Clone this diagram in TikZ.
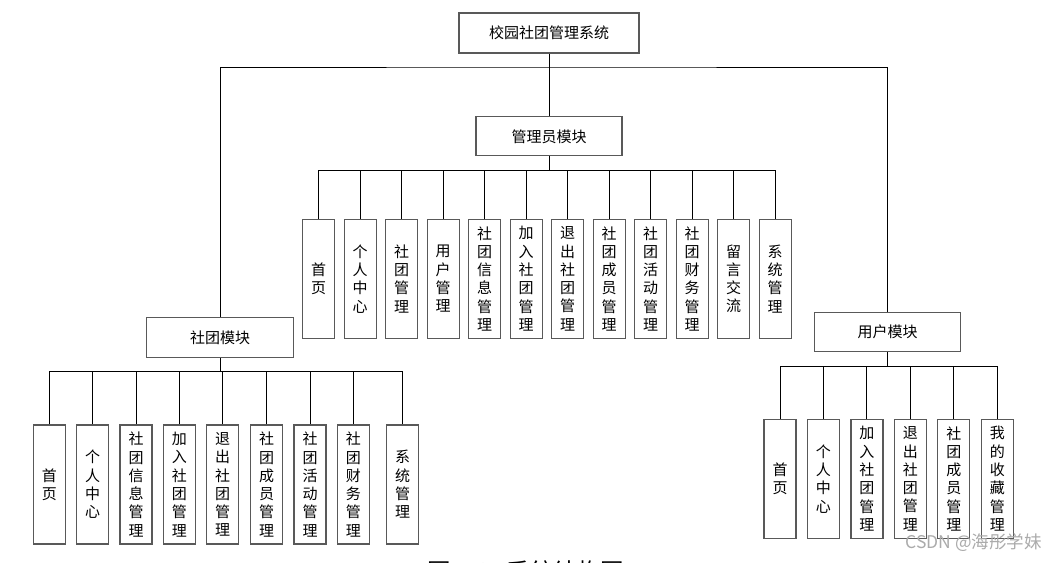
\documentclass[tikz,border=0pt]{standalone}
\usepackage{fontspec}
\setmainfont{Noto Sans CJK SC}
\begin{document}
\begin{tikzpicture}[x=1pt,y=-1pt,
  box/.style={draw=black!65, line width=1.2pt, fill=white, inner sep=0pt, font=\fontsize{15}{18.3}\selectfont},
  modbox/.style={box, minimum width=146pt, minimum height=39pt},
  leaf/.style={box, minimum width=32pt, minimum height=119pt, align=center, text width=16pt},
  conn/.style={draw=black, line width=0.9pt}]
\useasboundingbox (0,0) rectangle (1057,562);
\fill[white] (0,0) rectangle (1057,562);
% module boxes
\node[box, minimum width=180pt, minimum height=40pt] (top) at (549,33) {校园社团管理系统};
\node[modbox] (admin) at (549,136.3) {管理员模块};
\node[modbox, minimum width=147pt, minimum height=40pt] (club) at (220,337.5) {社团模块};
\node[modbox] (user) at (887.5,332) {用户模块};
% coordinates
\coordinate (hl) at (549,67);
\coordinate (abus) at (549,170.3);
\coordinate (cbus) at (220,371.7);
\coordinate (ubus) at (887.5,366.7);
% top connectors
\draw[conn] (top.south) -- (admin.north);
\draw[conn] (club.north) |- (hl) -| (user.north);
% admin leaves
\foreach \t [count=\i from 0] in {首\\页, 个\\人\\中\\心, 社\\团\\管\\理, 用\\户\\管\\理, 社\\团\\信\\息\\管\\理, 加\\入\\社\\团\\管\\理, 退\\出\\社\\团\\管\\理, 社\\团\\成\\员\\管\\理, 社\\团\\活\\动\\管\\理, 社\\团\\财\\务\\管\\理, 留\\言\\交\\流, 系\\统\\管\\理}{
  \node[leaf] (a\i) at ({318.7+\i*41.5},278.8) {\t};
  \draw[conn] (a\i.north) |- (abus);
}
\draw[conn] (admin.south) -- (abus);
% club leaves
\foreach \t/\x [count=\i from 0] in {首\\页/49.3, 个\\人\\中\\心/92.7, 社\\团\\信\\息\\管\\理/136, 加\\入\\社\\团\\管\\理/179.3, 退\\出\\社\\团\\管\\理/222.7, 社\\团\\成\\员\\管\\理/266.7, 社\\团\\活\\动\\管\\理/310, 社\\团\\财\\务\\管\\理/353.3, 系\\统\\管\\理/402.7}{
  \node[leaf] (c\i) at (\x,484.5) {\t};
  \draw[conn] (c\i.north) |- (cbus);
}
\draw[conn] (club.south) -- (cbus);
% user leaves
\foreach \t [count=\i from 0] in {首\\页, 个\\人\\中\\心, 加\\入\\社\\团\\管\\理, 退\\出\\社\\团\\管\\理, 社\\团\\成\\员\\管\\理, 我\\的\\收\\藏\\管\\理}{
  \node[leaf] (u\i) at ({780+\i*43.45},478.8) {\t};
  \draw[conn] (u\i.north) |- (ubus);
}
\draw[conn] (user.south) -- (ubus);
% caption (cut off at the bottom edge, as in the reference)
\node[anchor=base west, font=\fontsize{23.5}{26}\selectfont, inner sep=0pt] (cap) at (427,580) {图\hspace{6pt}1-2\hspace{16pt}系统结构图};
% watermark
\node[anchor=center, font=\fontsize{17.5}{19}\selectfont, text=black!33, inner sep=0pt] (wm) at (973.5,543) {CSDN @海彤学妹};
\end{tikzpicture}
\end{document}
